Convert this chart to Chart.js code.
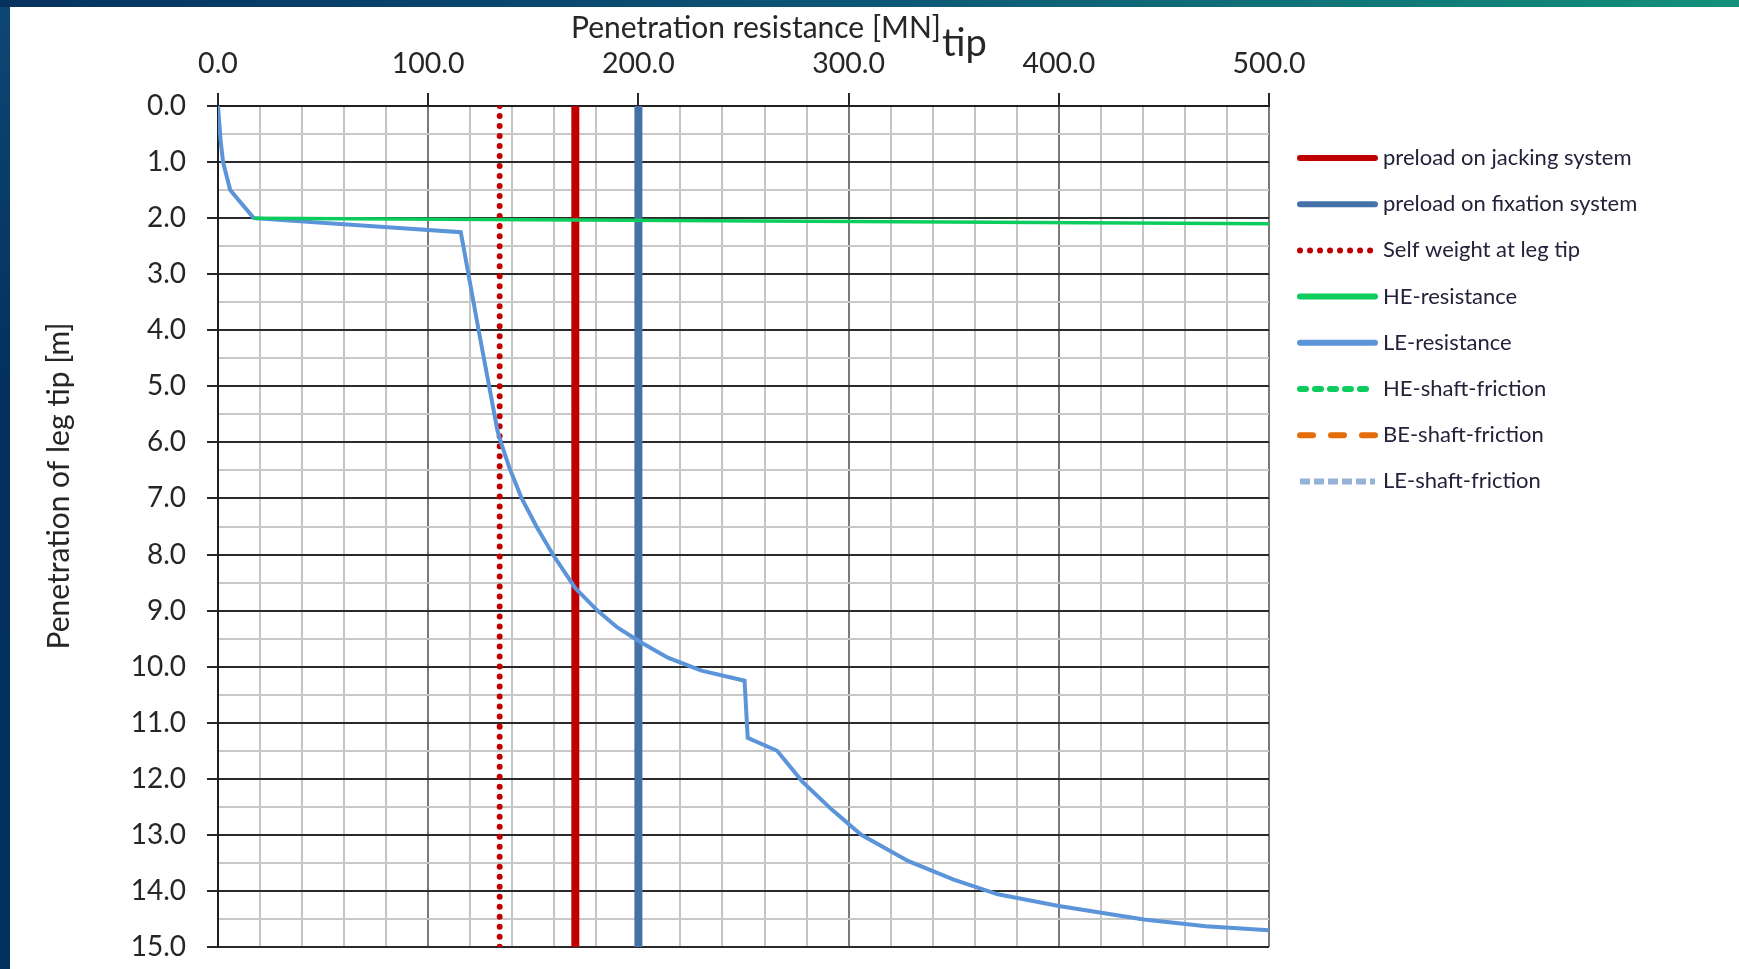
<!DOCTYPE html>
<html>
<head>
<meta charset="utf-8">
<title>Penetration resistance</title>
<script src="https://cdn.jsdelivr.net/npm/chart.js@4.4.1/dist/chart.umd.min.js"></script>
<style>
  html, body { margin: 0; padding: 0; background: #fff; }
  #wrap { position: relative; width: 1739px; height: 969px; overflow: hidden; }
  .edge-left { position: absolute; left: 0; top: 0; width: 10px; height: 969px; background: linear-gradient(#0d4775, #03305f 40%, #02305f); }
  .edge-top { position: absolute; left: 0; top: 0; width: 1739px; height: 7px; background: linear-gradient(to right, #06325f, #0d5676 50%, #13907a); }
  canvas { position: absolute; left: 0; top: 0; }
</style>
</head>
<body>
<div id="wrap">
  <div class="edge-left"></div>
  <div class="edge-top"></div>
  <canvas id="chart" width="1739" height="969"></canvas>
</div>
<script>
// values (resistance in MN, depth in m)
const depthRange = [0, 15];
const resistRange = [0, 500];
const preloadJacking = 170;
const preloadFixation = 200;
const selfWeight = 134;

const heResist = [17, 500];
const heDepth = [2.0, 2.1];

const leResist = [0, 0.6, 1.2, 2.4, 5.8, 17, 115.5, 124, 129, 133, 134.6, 138.6, 144.5, 151.5, 159.3, 170, 180.5, 190, 200.5, 214, 230, 250.5, 252, 266, 278, 292, 306, 328.5, 350, 371, 400, 440.5, 470, 500];
const leDepth  = [0, 0.3, 0.6, 1.0, 1.5, 2.0, 2.25, 4.0, 5.0, 5.8, 6.0, 6.45, 7.0, 7.5, 8.0, 8.6, 9.0, 9.3, 9.55, 9.84, 10.07, 10.25, 11.27, 11.5, 12.05, 12.55, 13.0, 13.47, 13.8, 14.06, 14.27, 14.51, 14.63, 14.7];

const pts = (xs, ys) => xs.map((x, i) => ({ x: x, y: ys[i] }));
const vline = x => depthRange.map(d => ({ x: x, y: d }));

const FONT = 'Lato';
const TEXT = '#262626';

const titles = {
  id: 'titles',
  afterDraw(chart) {
    const ctx = chart.ctx;
    ctx.save();
    ctx.fillStyle = TEXT;
    ctx.textBaseline = 'alphabetic';
    ctx.font = '30px ' + FONT;
    ctx.textAlign = 'center';
    ctx.fillText('Penetration resistance [MN]', 756, 38);
    ctx.font = '38px ' + FONT;
    ctx.textAlign = 'left';
    ctx.fillText('tip', 942, 56);
    ctx.translate(59, 486);
    ctx.rotate(-Math.PI / 2);
    ctx.font = '30px ' + FONT;
    ctx.textAlign = 'center';
    ctx.textBaseline = 'middle';
    ctx.fillText('Penetration of leg tip [m]', 0, 0);
    ctx.restore();
  }
};

// legend on the right, one line sample per dataset
const sideLegend = {
  id: 'sideLegend',
  afterDraw(chart) {
    const ctx = chart.ctx;
    const x0 = 1300, x1 = 1375, tx = 1383;
    let y = 158;
    ctx.save();
    chart.data.datasets.forEach(ds => {
      ctx.beginPath();
      ctx.strokeStyle = ds.borderColor;
      ctx.lineWidth = 6;
      ctx.lineCap = ds.legendCap || 'round';
      ctx.setLineDash(ds.borderDash || []);
      ctx.moveTo(x0, y);
      ctx.lineTo(x1, y);
      ctx.stroke();
      ctx.setLineDash([]);
      ctx.fillStyle = '#22223a';
      ctx.font = '22px ' + FONT;
      ctx.textAlign = 'left';
      ctx.textBaseline = 'middle';
      ctx.fillText(ds.label, tx, y);
      y += 46.2;
    });
    ctx.restore();
  }
};

const isMajor = (v, step) => Math.abs(v / step - Math.round(v / step)) < 1e-6;

new Chart(document.getElementById('chart'), {
  type: 'scatter',
  data: {
    datasets: [
      { label: 'preload on jacking system', data: vline(preloadJacking), borderColor: '#c00000', borderWidth: 8, order: 3 },
      { label: 'preload on fixation system', data: vline(preloadFixation), borderColor: '#4472a8', borderWidth: 8, order: 3 },
      { label: 'Self weight at leg tip', data: vline(selfWeight), borderColor: '#c00000', borderWidth: 6, borderDash: [0.01, 10], borderCapStyle: 'round', order: 2 },
      { label: 'HE-resistance', data: pts(heResist, heDepth), borderColor: '#0dcc5e', borderWidth: 3.5, order: 0 },
      { label: 'LE-resistance', data: pts(leResist, leDepth), borderColor: '#5b94d8', borderWidth: 4, order: 1 },
      { label: 'HE-shaft-friction', data: [], borderColor: '#0dcc5e', borderWidth: 3, borderDash: [6, 9] },
      { label: 'BE-shaft-friction', data: [], borderColor: '#e46c0a', borderWidth: 3, borderDash: [13, 18] },
      { label: 'LE-shaft-friction', data: [], borderColor: '#95b3d7', borderWidth: 3, borderDash: [10, 4], legendCap: 'butt' }
    ]
  },
  options: {
    responsive: false,
    animation: false,
    showLine: true,
    elements: { point: { radius: 0, hoverRadius: 0 }, line: { tension: 0, fill: false } },
    layout: { padding: { left: 0, top: 0, right: 470, bottom: 22 } },
    plugins: { legend: { display: false }, tooltip: { enabled: false } },
    scales: {
      x: {
        type: 'linear',
        position: 'top',
        min: resistRange[0],
        max: resistRange[1],
        ticks: {
          stepSize: 20,
          autoSkip: false,
          maxRotation: 0,
          padding: 12,
          color: TEXT,
          font: { family: FONT, size: 28.5 },
          callback: v => isMajor(v, 100) ? v.toFixed(1) : ''
        },
        grid: {
          lineWidth: 2,
          color: c => isMajor(c.tick.value, 100) ? '#7a7a7a' : '#c4c4c4',
          tickLength: 13,
          tickWidth: 2,
          tickColor: c => isMajor(c.tick.value, 100) ? '#262626' : 'rgba(0,0,0,0)'
        },
        border: { color: '#1f1f1f', width: 2 },
        afterFit: s => { s.height = 106; s.paddingLeft = 0; s.paddingRight = 0; }
      },
      y: {
        type: 'linear',
        position: 'left',
        reverse: true,
        min: depthRange[0],
        max: depthRange[1],
        ticks: {
          stepSize: 0.5,
          autoSkip: false,
          padding: 21,
          color: TEXT,
          font: { family: FONT, size: 28 },
          callback: v => isMajor(v, 1) ? v.toFixed(1) : ''
        },
        grid: {
          lineWidth: 2,
          color: c => isMajor(c.tick.value, 1) ? '#2a2a2a' : '#c8c8c8',
          tickLength: 11,
          tickWidth: 2,
          tickColor: c => isMajor(c.tick.value, 1) ? '#262626' : 'rgba(0,0,0,0)'
        },
        border: { color: '#1f1f1f', width: 2 },
        afterFit: s => { s.width = 218; s.paddingTop = 0; s.paddingBottom = 0; }
      }
    }
  },
  plugins: [titles, sideLegend]
});
</script>
</body>
</html>
